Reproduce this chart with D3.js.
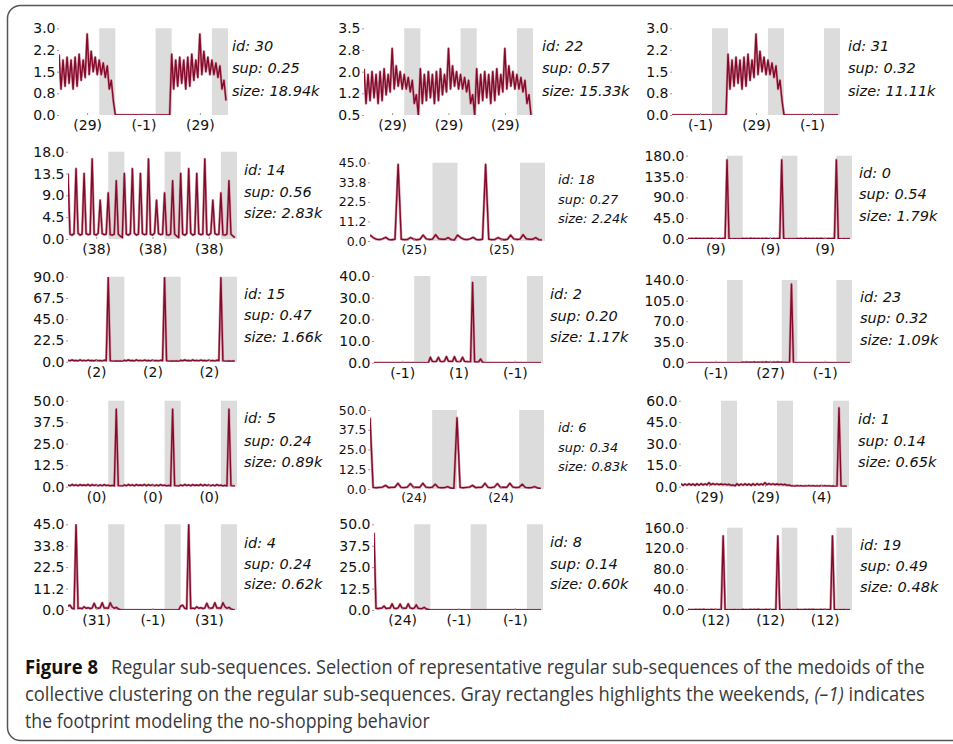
<!DOCTYPE html>
<html>
<head>
<meta charset="utf-8">
<script src="https://cdn.jsdelivr.net/npm/d3@7"></script>
<style>
body{margin:0;background:#fff;}
svg{display:block;}
</style>
</head>
<body>
<svg id="fig" width="953" height="744"></svg>
<script>
// weekly footprints, 4 samples per day, Monday..Sunday
const fp29 = [2.1,0.9,1.9,1.0, 2.0,1.1,1.9,0.9, 2.0,1.0,2.1,1.2, 1.9,1.3,2.8,1.4, 2.2,1.5,2.0,1.4, 1.9,1.4,1.8,1.3, 1.7,0.9,1.2,0.5];
const fpNone = [0,0,0,0, 0,0,0,0, 0,0,0,0, 0,0,0,0, 0,0,0,0, 0,0,0,0, 0,0,0,0];   // (-1) no shopping
const fp38 = [13.5,1.0,0.8,1.1, 14.5,1.2,0.8,1.0, 13.5,1.1,0.9,1.0, 16.5,1.0,0.8,1.2, 8.0,1.1,0.9,1.0, 9.5,0.9,0.8,1.0, 12.0,1.0,0.6,0.3];
const fp25 = [3.4,2.0,1.0,0.8, 1.2,2.1,0.9,0.7, 1.0,44.0,1.0,0.8, 0.9,2.0,1.0,0.7, 1.0,3.4,1.2,0.9, 1.1,3.6,1.3,1.0, 1.0,1.9,0.8,0.6];
const fp9 = [1.2,0.5,1.0,0.4, 1.5,0.6,1.1,0.5, 1.0,0.4,1.3,0.6, 1.4,0.5,0.9,0.4, 1.2,0.6,1.0,0.5, 171,0.8,0.5,0.3, 0.6,0.3,0.4,0.2];
const fp2 = [1.5,0.8,1.8,1.0, 1.3,0.7,1.9,0.9, 1.4,0.8,1.7,1.0, 1.3,0.8,1.6,0.9, 1.2,0.7,1.5,1.0, 89,1.0,0.6,0.5, 0.8,0.5,0.7,0.4];
const fp1 = [2.5,0.6,0.5,0.6, 2.5,0.6,0.5,0.7, 2.8,0.7,0.6,0.6, 2.8,0.6,0.5,0.6, 2.5,0.6,0.5,0.4, 0.5,37,0.4,0.3, 0.4,1.7,0.2,0.0];
const fp27 = [0.8,0.4,1.0,0.5, 0.9,0.5,1.1,0.4, 0.8,0.5,1.0,0.6, 1.2,0.5,0.9,0.4, 1.0,0.6,1.1,0.5, 0.7,0.3,0.6,0.4, 0.5,133,0.3,0.0];
const fp0 = [1.0,0.5,1.3,0.6, 1.1,0.5,1.2,0.7, 1.0,0.6,1.3,0.5, 1.2,0.6,1.1,0.5, 1.0,0.5,1.2,0.6, 0.9,0.4,0.8,0.3, 45,0.6,0.5,0.3];
const fp24 = [45,1.0,0.8,1.0, 1.2,2.3,0.9,1.0, 1.1,3.6,1.0,0.9, 1.2,3.4,1.0,1.1, 1.0,3.6,1.2,0.9, 1.1,3.0,1.0,0.8, 0.9,1.5,0.6,0.3];
const fp4 = [0.6,0.3,0.8,0.4, 0.7,0.3,0.6,0.4, 0.8,0.4,0.7,0.3, 0.6,0.3,0.8,0.4, 0.7,0.3,0.6,0.3, 0.5,0.2,0.4,55, 0.5,0.3,0.4,0.2];
const fp31 = [2.1,2.5,0.9,0.6, 45,0.8,1.0,0.7, 1.7,0.9,1.2,0.8, 1.0,3.5,1.1,0.9, 1.2,3.8,1.0,1.1, 0.9,3.8,1.7,0.9, 1.4,0.6,0.2,0.0];
const fp12 = [1.0,0.4,0.8,0.5, 1.1,0.5,0.9,0.4, 1.2,0.5,0.8,0.4, 1.0,0.6,0.9,0.5, 0.8,0.4,144,0.6, 0.5,0.3,0.6,0.4, 0.7,0.3,0.5,0.2];

const footprints = {"29":fp29,"-1":fpNone,"38":fp38,"25":fp25,"9":fp9,"2":fp2,"1":fp1,
                    "27":fp27,"0":fp0,"24":fp24,"4":fp4,"31":fp31,"12":fp12};

// panels (reading order)
const panelIds   = [30,22,31,14,18,0,15,2,23,5,6,1,4,8,19];
const panelSup   = ["0.25","0.57","0.32","0.56","0.27","0.54","0.47","0.20","0.32","0.24","0.34","0.14","0.24","0.14","0.49"];
const panelSize  = ["18.94k","15.33k","11.11k","2.83k","2.24k","1.79k","1.66k","1.17k","1.09k","0.89k","0.83k","0.65k","0.62k","0.60k","0.48k"];
const panelWeeks = [[29,-1,29],[29,29,29],[-1,29,-1],[38,38,38],[25,25],[9,9,9],[2,2,2],[-1,1,-1],
                    [-1,27,-1],[0,0,0],[24,24],[29,29,4],[31,-1,31],[24,-1,-1],[12,12,12]];
const yMin = [0,0.5,0,0,0,0,0,0,0,0,0,0,0,0,0];
const yMax = [3,3.5,3,18,45,180,90,40,140,50,50,60,45,50,160];
const yTickLabels = [
  ["0.0","0.8","1.5","2.2","3.0"],["0.5","1.2","2.0","2.8","3.5"],["0.0","0.8","1.5","2.2","3.0"],
  ["0.0","4.5","9.0","13.5","18.0"],["0.0","11.2","22.5","33.8","45.0"],["0.0","45.0","90.0","135.0","180.0"],
  ["0.0","22.5","45.0","67.5","90.0"],["0.0","10.0","20.0","30.0","40.0"],["0.0","35.0","70.0","105.0","140.0"],
  ["0.0","12.5","25.0","37.5","50.0"],["0.0","12.5","25.0","37.5","50.0"],["0.0","15.0","30.0","45.0","60.0"],
  ["0.0","11.2","22.5","33.8","45.0"],["0.0","12.5","25.0","37.5","50.0"],["0.0","40.0","80.0","120.0","160.0"]
];
const weekendDays = [5,6];
const slotsPerDay = 4;

// where each panel sits: plot box, text column, font scale
const layout = [
  {x0:59, x1:228, y0:28.3, y1:115,  tx:232, ty:[46,68,91],    fs:1},
  {x0:364,x1:533, y0:28.3, y1:115,  tx:542, ty:[46,68,91],    fs:1},
  {x0:672,x1:840, y0:28.3, y1:115,  tx:848, ty:[46,68,91],    fs:1},
  {x0:68, x1:237, y0:151.7,y1:239,  tx:244, ty:[170,192,213], fs:1},
  {x0:370,x1:545, y0:162.7,y1:241,  tx:558, ty:[179,199,218], fs:0.89},
  {x0:688,x1:852, y0:155.7,y1:239,  tx:859, ty:[173,194,216], fs:1},
  {x0:68, x1:237, y0:276.7,y1:361.7,tx:244, ty:[294,315,337], fs:1},
  {x0:374,x1:543, y0:276,  y1:362.7,tx:550, ty:[294,316,337], fs:1},
  {x0:688,x1:852, y0:280,  y1:362.7,tx:860, ty:[297,318,340], fs:1},
  {x0:68, x1:237, y0:400.7,y1:486.7,tx:244, ty:[418,441,462], fs:1},
  {x0:370,x1:544, y0:410,  y1:489,  tx:558, ty:[427,447,466], fs:0.89},
  {x0:681,x1:849, y0:400.7,y1:486.7,tx:858, ty:[419,441,462], fs:1},
  {x0:68, x1:237, y0:524.3,y1:610,  tx:244, ty:[543,564,584], fs:1},
  {x0:374,x1:543, y0:524.3,y1:610,  tx:550, ty:[542,564,584], fs:1},
  {x0:688,x1:852, y0:527.7,y1:610,  tx:860, ty:[545,566,587], fs:1}
];

let svg = d3.select("#fig");

// frame with rounded corner, running off the right and bottom
svg.append("rect").attr("x",7.5).attr("y",5.5).attr("width",1000).attr("height",735).attr("rx",13)
    .attr("fill","none").attr("stroke","#555").attr("stroke-width",1.5);

panelIds.forEach((id,i) => {
    let L = layout[i];
    let weeks = panelWeeks[i];
    let perWeek = slotsPerDay*7;
    let series = [].concat(...weeks.map(w => footprints[String(w)]));
    let x = d3.scaleLinear().domain([0, weeks.length*perWeek]).range([L.x0, L.x1]);
    let y = d3.scaleLinear().domain([yMin[i], yMax[i]]).range([L.y1, L.y0]);
    let fs = 14*L.fs;
    let g = svg.append("g");

    // weekends
    g.selectAll("rect.we").data(weeks).enter().append("rect").attr("class","we")
        .attr("x", (w,k) => x(k*perWeek + weekendDays[0]*slotsPerDay))
        .attr("width", x(weekendDays.length*slotsPerDay) - x(0))
        .attr("y", y(yMax[i])).attr("height", y(yMin[i]) - y(yMax[i]))
        .attr("fill","#dcdcdc");

    g.append("clipPath").attr("id","clip"+i).append("rect")
        .attr("x",L.x0).attr("y",L.y0).attr("width",L.x1-L.x0).attr("height",L.y1-L.y0);

    let line = d3.line().x((d,j) => x(j)).y(d => y(d));
    g.append("path").datum(series).attr("d",line).attr("clip-path","url(#clip"+i+")")
        .attr("fill","none").attr("stroke","#d49aa8").attr("stroke-width",2.6).attr("stroke-linejoin","round");
    g.append("path").datum(series).attr("d",line).attr("clip-path","url(#clip"+i+")")
        .attr("fill","none").attr("stroke","#820a2a").attr("stroke-width",1.4).attr("stroke-linejoin","round");

    // y axis
    let yTicks = d3.range(5).map(k => yMin[i] + k*(yMax[i]-yMin[i])/4);
    let ya = g.append("g").attr("transform","translate("+L.x0+",0)")
        .call(d3.axisLeft(y).tickValues(yTicks).tickFormat((d,k) => yTickLabels[i][k])
            .tickSizeInner(2).tickSizeOuter(0).tickPadding(1.5));
    ya.select(".domain").remove();

    // x axis, one label per week
    let xa = g.append("g").attr("transform","translate(0,"+L.y1+")")
        .call(d3.axisBottom(x).tickValues(weeks.map((w,k) => k*perWeek + perWeek/2))
            .tickFormat((d,k) => "(" + weeks[k] + ")")
            .tickSizeInner(-2).tickSizeOuter(0).tickPadding(5*L.fs));
    xa.select(".domain").remove();

    [ya, xa].forEach(a => {
        a.selectAll(".tick line").attr("stroke","#9a9a9a");
        a.selectAll(".tick text").attr("fill","#111").style("font-family","'DejaVu Sans', sans-serif")
            .style("font-size", fs+"px");
    });

    // annotation
    let info = ["id: "+id, "sup: "+panelSup[i], "size: "+panelSize[i]];
    g.selectAll("text.info").data(info).enter().append("text").attr("class","info")
        .attr("x", L.tx).attr("y", (d,k) => L.ty[k]).attr("dy","0.36em")
        .style("font-family","'DejaVu Sans', sans-serif").style("font-style","italic")
        .style("font-size", (14.5*L.fs)+"px").attr("fill","#111")
        .text(d => d);
});

// caption, squeezed horizontally to the width of the condensed original
let cap = svg.append("g").style("font-family","'Open Sans', 'Noto Sans', sans-serif")
    .style("font-size","20px").attr("fill","#3a3a3a");

function fit(sel, x, y, width) {
    let w = sel.node().getComputedTextLength();
    sel.attr("transform","translate("+x+","+y+") scale("+(width/w)+",1)");
}

let t0 = cap.append("text").attr("fill","#111").style("font-weight","bold").text("Figure 8");
fit(t0, 25, 674, 73);
let t1 = cap.append("text")
    .text("Regular sub-sequences. Selection of representative regular sub-sequences of the medoids of the");
fit(t1, 111, 674, 814);
let t2 = cap.append("text");
t2.append("tspan").text("collective clustering on the regular sub-sequences. Gray rectangles highlights the weekends, ");
t2.append("tspan").style("font-style","italic").text("(\u20131)");
t2.append("tspan").text(" indicates");
fit(t2, 25, 701, 900);
let t3 = cap.append("text").text("the footprint modeling the no-shopping behavior");
fit(t3, 25, 728, 405);
</script>
</body>
</html>
